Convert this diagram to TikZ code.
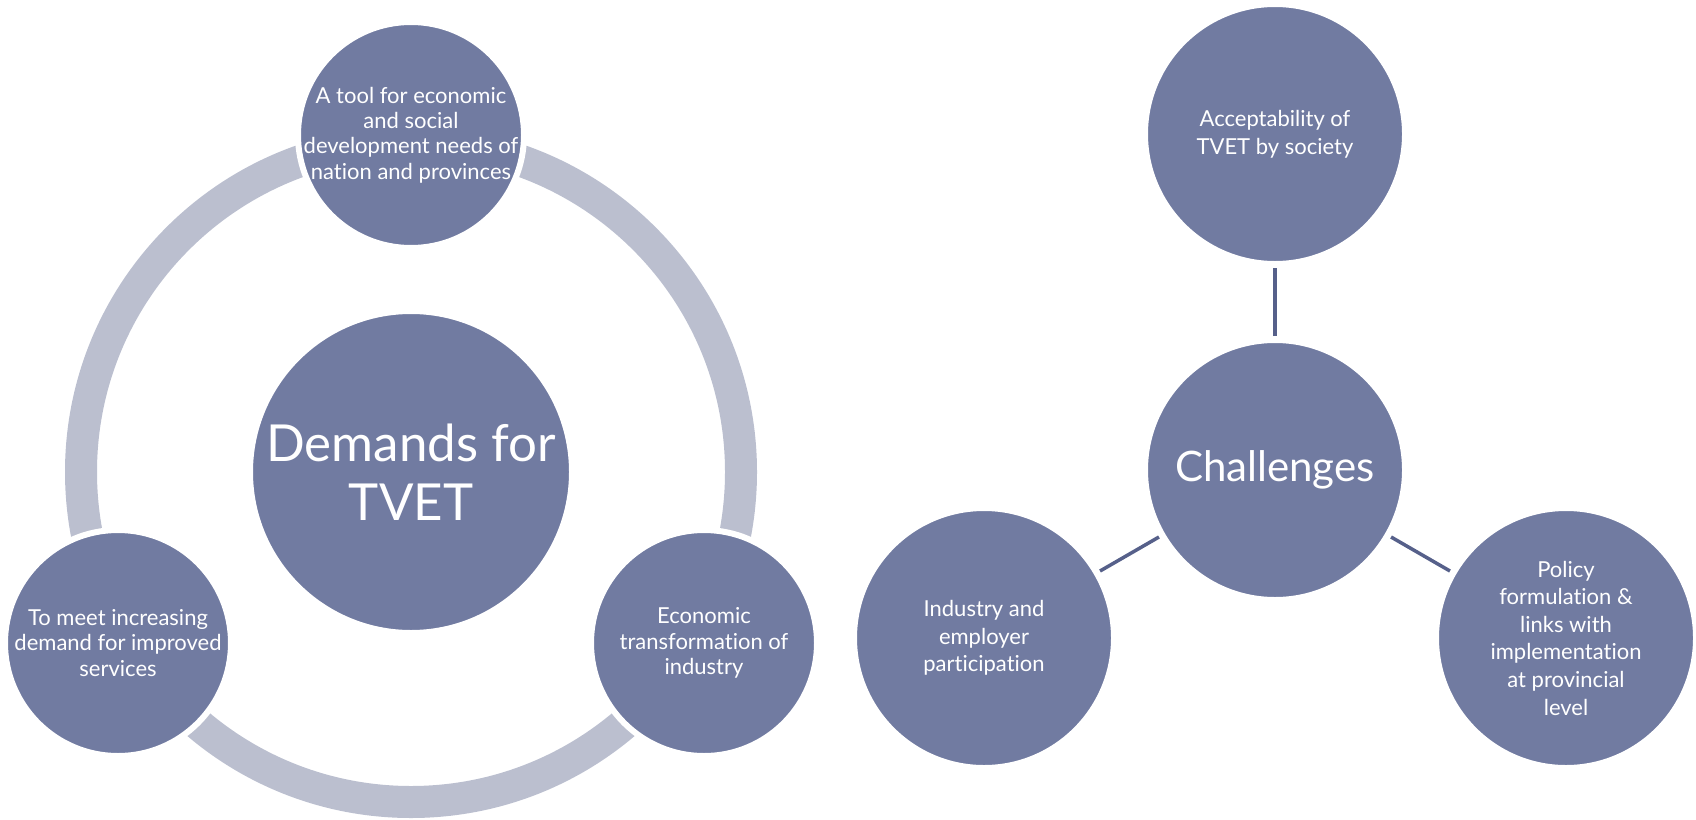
\documentclass[tikz,border=0pt]{standalone}
\usepackage{fontspec}
\setmainfont{Lato}[Ligatures=NoCommon]
\definecolor{bubblefill}{HTML}{717BA1}
\definecolor{ringgray}{HTML}{BBBFCF}
\definecolor{linkgray}{HTML}{56608A}
\begin{document}
\begin{tikzpicture}[x=0.5pt,y=-0.5pt,
  bubble/.style={circle,fill=bubblefill,draw=white,line width=3pt,inner sep=0pt},
  bubbletext/.style={text=white,align=center,inner sep=0pt,font=\fontsize{11}{12.6}\selectfont},
  linkline/.style={draw=linkgray,line width=1.75pt,shorten <=0.5pt,shorten >=0.5pt}]
\useasboundingbox (0,0) rectangle (1696,819);

%Shape: Ring
\draw [ringgray,line width=16pt] (411,472) circle [radius=330];

%Shape: Circles, left diagram
\node [bubble,minimum size=161pt] (demands) at (411,472) {};
\node [bubble,minimum size=113pt] (tool) at (411,135) {};
\node [bubble,minimum size=113pt] (meet) at (118,643) {};
\node [bubble,minimum size=113pt] (economic) at (704,643) {};

% Text Node
\node [bubbletext,font=\fontsize{25.5}{29.5}\selectfont] (demands-t) at (demands) {Demands for\\TVET};
\node [bubbletext] (tool-t) at (tool) {A tool for economic\\and social\\development needs of\\nation and provinces};
\node [bubbletext] (meet-t) at (meet) {To meet increasing\\demand for improved\\services};
\node [bubbletext] (economic-t) at (economic) {Economic\\transformation of\\industry};

%Shape: Circles, right diagram
\node [bubble,minimum size=130pt] (challenges) at (1275,470) {};
\node [bubble,minimum size=130pt] (accept) at (1275,134) {};
\node [bubble,minimum size=130pt] (industry) at (984,638) {};
\node [bubble,minimum size=130pt] (policy) at (1566,638) {};

%Straight Lines
\draw [linkline] (challenges) -- (accept);
\draw [linkline] (challenges) -- (industry);
\draw [linkline] (challenges) -- (policy);

% Text Node
\node [bubbletext,font=\fontsize{21}{25}\selectfont] (challenges-t) at (challenges) {Challenges};
\node [bubbletext,font=\fontsize{11}{13.8}\selectfont] (accept-t) at (accept) {Acceptability of\\TVET by society};
\node [bubbletext,font=\fontsize{11}{13.8}\selectfont] (industry-t) at (industry) {Industry and\\employer\\participation};
\node [bubbletext,font=\fontsize{11}{13.8}\selectfont] (policy-t) at (policy) {Policy\\formulation \&\\links with\\implementation\\at provincial\\level};

\end{tikzpicture}
\end{document}
